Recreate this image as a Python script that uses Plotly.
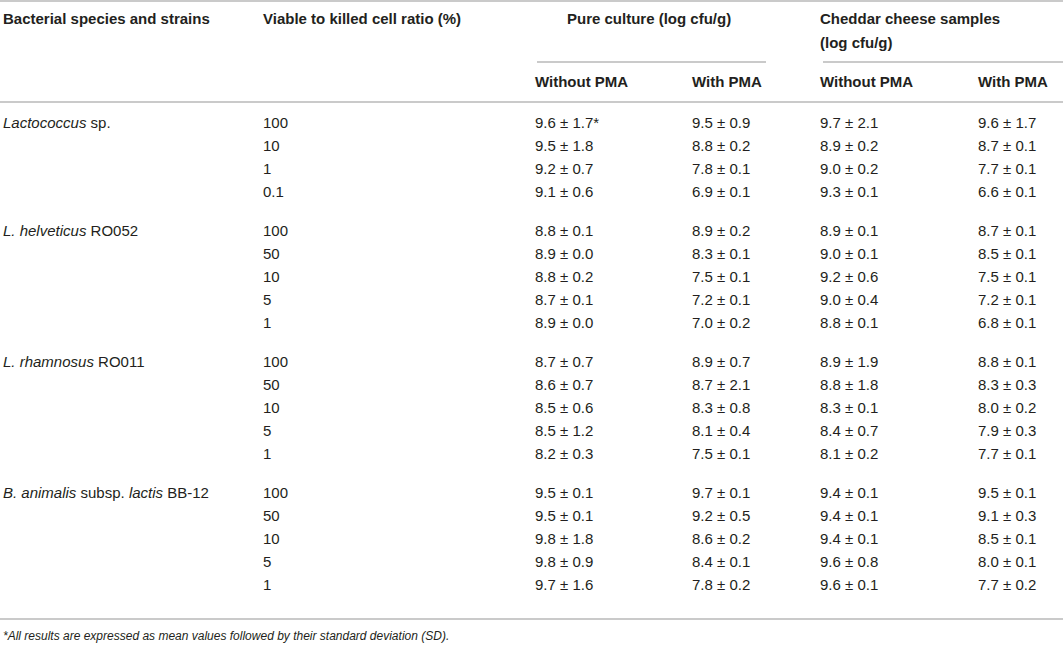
import plotly.graph_objects as go

# Table content
species = ['<i>Lactococcus</i> sp.', '<i>L. helveticus</i> RO052',
           '<i>L. rhamnosus</i> RO011', '<i>B. animalis</i> subsp. <i>lactis</i> BB-12']
ratios = [['100', '10', '1', '0.1'],
          ['100', '50', '10', '5', '1'],
          ['100', '50', '10', '5', '1'],
          ['100', '50', '10', '5', '1']]

# mean / SD per column, grouped by species
pureWithoutMean = [[9.6, 9.5, 9.2, 9.1], [8.8, 8.9, 8.8, 8.7, 8.9], [8.7, 8.6, 8.5, 8.5, 8.2], [9.5, 9.5, 9.8, 9.8, 9.7]]
pureWithoutSd = [[1.7, 1.8, 0.7, 0.6], [0.1, 0.0, 0.2, 0.1, 0.0], [0.7, 0.7, 0.6, 1.2, 0.3], [0.1, 0.1, 1.8, 0.9, 1.6]]
pureWithMean = [[9.5, 8.8, 7.8, 6.9], [8.9, 8.3, 7.5, 7.2, 7.0], [8.9, 8.7, 8.3, 8.1, 7.5], [9.7, 9.2, 8.6, 8.4, 7.8]]
pureWithSd = [[0.9, 0.2, 0.1, 0.1], [0.2, 0.1, 0.1, 0.1, 0.2], [0.7, 2.1, 0.8, 0.4, 0.1], [0.1, 0.5, 0.2, 0.1, 0.2]]
cheeseWithoutMean = [[9.7, 8.9, 9.0, 9.3], [8.9, 9.0, 9.2, 9.0, 8.8], [8.9, 8.8, 8.3, 8.4, 8.1], [9.4, 9.4, 9.4, 9.6, 9.6]]
cheeseWithoutSd = [[2.1, 0.2, 0.2, 0.1], [0.1, 0.1, 0.6, 0.4, 0.1], [1.9, 1.8, 0.1, 0.7, 0.2], [0.1, 0.1, 0.1, 0.8, 0.1]]
cheeseWithMean = [[9.6, 8.7, 7.7, 6.6], [8.7, 8.5, 7.5, 7.2, 6.8], [8.8, 8.3, 8.0, 7.9, 7.7], [9.5, 9.1, 8.5, 8.0, 7.7]]
cheeseWithSd = [[1.7, 0.1, 0.1, 0.1], [0.1, 0.1, 0.1, 0.1, 0.1], [0.1, 0.3, 0.2, 0.3, 0.1], [0.1, 0.3, 0.1, 0.1, 0.2]]

footnote = '<i>*All results are expressed as mean values followed by their standard deviation (SD).</i>'

# -------- Styling --------
W, H = 1063, 646
textColour = '#231f20'
lineColour = '#b9b9b9'
fontName = 'Liberation Sans, Arial, sans-serif'
fontSize = 15

# column left edges and row layout (pixels, y grows downward)
colX = [3, 263, 535, 692, 820, 978]
rowStart, rowStep, groupGap = 124, 23, 16


def fmt(m, s, star=False):
    return f'{m:.1f} \u00b1 {s:.1f}' + ('*' if star else '')


# Work out every row's y plus the cell strings for each column
rowY, speciesY = [], []
cells = [[] for _ in range(5)]
y = rowStart
for g, name in enumerate(species):
    speciesY.append(y)
    for i, r in enumerate(ratios[g]):
        rowY.append(y)
        cells[0].append(r)
        cells[1].append(fmt(pureWithoutMean[g][i], pureWithoutSd[g][i], star=(g == 0 and i == 0)))
        cells[2].append(fmt(pureWithMean[g][i], pureWithSd[g][i]))
        cells[3].append(fmt(cheeseWithoutMean[g][i], cheeseWithoutSd[g][i]))
        cells[4].append(fmt(cheeseWithMean[g][i], cheeseWithSd[g][i]))
        y += rowStep
    y += groupGap

fig = go.Figure()


def addText(xs, ys, texts, bold=False, size=fontSize):
    fig.add_trace(go.Scatter(x=xs, y=ys, text=[f'<b>{t}</b>' if bold else t for t in texts],
                             mode='text', textposition='middle right', hoverinfo='skip',
                             textfont=dict(family=fontName, size=size, color=textColour)))


# Header rows
addText([colX[0], colX[1], 567, colX[4]], [20, 20, 20, 20],
        ['Bacterial species and strains', 'Viable to killed cell ratio (%)',
         'Pure culture (log cfu/g)', 'Cheddar cheese samples'], bold=True)
addText([colX[4]], [44], ['(log cfu/g)'], bold=True)
addText(colX[2:], [83] * 4, ['Without PMA', 'With PMA', 'Without PMA', 'With PMA'], bold=True)

# Body
addText([colX[0]] * len(species), speciesY, species)
for c in range(5):
    addText([colX[c + 1]] * len(rowY), rowY, cells[c])

# Footnote
addText([colX[0]], [637], [footnote], size=12)

# Rules
lines = [(0, W, 1), (0, W, 102), (537, 766, 62), (823, W, 62), (0, W, 619)]
for x0, x1, yy in lines:
    fig.add_shape(type='line', x0=x0, x1=x1, y0=yy, y1=yy, line=dict(color=lineColour, width=1.5))

fig.update_xaxes(range=[0, W], visible=False, fixedrange=True)
fig.update_yaxes(range=[H, 0], visible=False, fixedrange=True)
fig.update_layout(width=W, height=H, margin=dict(l=0, r=0, t=0, b=0), showlegend=False,
                  paper_bgcolor='white', plot_bgcolor='white')

# drop the page's default body margin so the figure sits at the window corner
fig.write_html('out.html', config={'displayModeBar': False},
               post_script="document.body.style.margin='0';document.body.style.overflow='hidden';")
